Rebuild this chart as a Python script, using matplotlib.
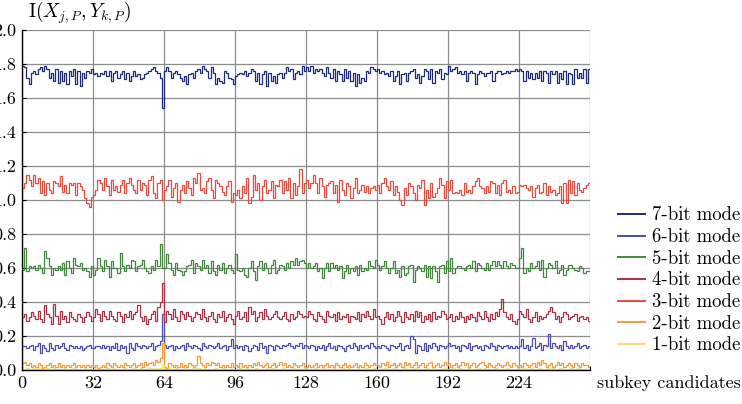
import numpy as np
import matplotlib
matplotlib.use("Agg")
import matplotlib.pyplot as plt

plt.rcParams["font.family"] = ["cmr10", "DejaVu Serif"]
plt.rcParams["mathtext.fontset"] = "cm"
plt.rcParams["axes.formatter.use_mathtext"] = True

# values, in hundredths (1-bit mode in thousandths)
mode7 = [179, 178, 172, 168, 175, 176, 174, 177, 178, 176, 179, 177, 172, 175, 170, 177,
         169, 176, 170, 175, 168, 176, 173, 177, 168, 176, 167, 175, 172, 176, 175, 177,
         174, 175, 173, 175, 174, 176, 173, 176, 170, 175, 176, 172, 174, 176, 171, 175,
         170, 173, 176, 173, 174, 171, 172, 174, 175, 176, 177, 178, 176, 175, 172, 154,
         176, 178, 176, 172, 175, 176, 174, 172, 170, 173, 168, 174, 175, 172, 176, 177,
         175, 179, 177, 176, 172, 178, 175, 168, 172, 170, 169, 176, 175, 172, 171, 168,
         173, 174, 175, 174, 176, 173, 175, 177, 176, 170, 175, 168, 174, 176, 167, 175,
         170, 173, 169, 174, 175, 172, 175, 178, 176, 177, 171, 175, 176, 174, 179, 176,
         178, 176, 179, 175, 177, 176, 177, 175, 173, 178, 175, 172, 177, 170, 176, 174,
         170, 177, 172, 176, 170, 175, 167, 174, 169, 172, 170, 176, 175, 178, 177, 176,
         177, 175, 176, 174, 175, 173, 176, 170, 173, 176, 168, 174, 175, 170, 175, 176,
         177, 172, 174, 169, 173, 177, 176, 171, 177, 169, 176, 175, 177, 171, 175, 174,
         179, 176, 177, 178, 175, 176, 174, 176, 170, 175, 176, 175, 168, 174, 176, 175,
         173, 175, 175, 176, 170, 175, 176, 176, 174, 175, 176, 175, 176, 176, 177, 176,
         177, 176, 170, 176, 172, 175, 171, 175, 172, 176, 170, 176, 175, 169, 176, 174,
         176, 169, 175, 171, 176, 168, 175, 174, 168, 177, 172, 175, 172, 177, 169, 177]

mode6 = [14, 14, 13, 14, 15, 12, 14, 16, 10, 15, 13, 11, 16, 13, 12, 15,
         13, 14, 16, 13, 12, 15, 14, 13, 14, 13, 14, 12, 13, 14, 15, 13,
         13, 14, 14, 13, 15, 13, 14, 12, 14, 13, 16, 12, 15, 13, 14, 10,
         16, 13, 12, 16, 14, 13, 15, 14, 13, 14, 16, 12, 14, 15, 17, 33,
         15, 13, 14, 15, 12, 14, 13, 14, 15, 12, 16, 14, 13, 15, 14, 13,
         12, 16, 14, 13, 15, 14, 13, 14, 16, 13, 14, 15, 12, 14, 18, 13,
         15, 13, 14, 12, 15, 14, 11, 13, 15, 14, 12, 16, 13, 14, 10, 15,
         14, 12, 15, 14, 13, 15, 14, 15, 16, 14, 13, 15, 14, 16, 13, 15,
         14, 13, 15, 14, 12, 14, 13, 15, 12, 14, 16, 13, 14, 12, 15, 14,
         13, 11, 14, 15, 13, 16, 14, 12, 15, 13, 14, 15, 13, 16, 14, 13,
         14, 13, 15, 14, 13, 12, 15, 14, 13, 14, 16, 12, 14, 15, 13, 20,
         18, 10, 15, 14, 12, 16, 11, 15, 13, 16, 14, 12, 15, 14, 13, 14,
         16, 14, 15, 13, 14, 11, 15, 14, 13, 16, 12, 14, 15, 13, 14, 12,
         15, 14, 13, 16, 14, 12, 15, 14, 13, 14, 15, 13, 14, 13, 14, 13,
         14, 18, 13, 15, 12, 14, 19, 13, 14, 16, 12, 15, 14, 21, 13, 16,
         14, 13, 15, 12, 17, 14, 13, 15, 13, 14, 16, 13, 14, 15, 13, 14]

mode5 = [59, 72, 58, 61, 60, 61, 59, 62, 60, 57, 70, 66, 61, 56, 60, 59,
         61, 59, 63, 56, 64, 60, 57, 66, 62, 61, 63, 59, 60, 58, 55, 61,
         56, 59, 66, 61, 58, 65, 61, 55, 64, 60, 60, 57, 69, 61, 58, 62,
         60, 65, 64, 58, 61, 62, 65, 60, 58, 57, 61, 59, 65, 61, 74, 60,
         60, 68, 63, 59, 56, 63, 59, 58, 56, 58, 61, 62, 65, 57, 63, 61,
         59, 65, 60, 62, 57, 64, 58, 56, 62, 59, 63, 57, 60, 62, 59, 57,
         68, 59, 58, 60, 56, 55, 60, 64, 58, 53, 61, 64, 59, 63, 60, 57,
         62, 65, 57, 59, 62, 61, 59, 63, 60, 64, 62, 66, 62, 64, 65, 63,
         60, 63, 60, 61, 63, 58, 60, 54, 60, 63, 58, 63, 60, 62, 59, 61,
         54, 58, 62, 57, 60, 58, 61, 56, 62, 58, 60, 59, 64, 61, 60, 65,
         62, 59, 61, 64, 60, 57, 60, 64, 57, 59, 55, 61, 56, 57, 61, 62,
         52, 59, 61, 60, 58, 62, 55, 61, 54, 61, 58, 52, 61, 62, 57, 64,
         58, 66, 57, 60, 61, 61, 60, 59, 61, 62, 60, 64, 58, 63, 62, 60,
         59, 63, 59, 62, 64, 61, 64, 62, 60, 64, 61, 60, 63, 62, 60, 60,
         66, 72, 57, 60, 58, 63, 60, 61, 64, 59, 65, 55, 60, 63, 62, 60,
         64, 57, 59, 62, 56, 59, 62, 62, 60, 59, 58, 61, 60, 57, 58, 58]

mode4 = [31, 33, 29, 31, 34, 32, 30, 35, 30, 28, 38, 33, 31, 27, 39, 32,
         27, 35, 30, 32, 28, 34, 31, 30, 29, 33, 31, 28, 31, 34, 32, 29,
         31, 36, 33, 29, 35, 32, 30, 35, 32, 30, 29, 34, 32, 28, 33, 31,
         35, 30, 33, 34, 38, 31, 29, 32, 27, 30, 33, 35, 29, 37, 40, 51,
         28, 35, 33, 30, 36, 31, 29, 35, 33, 30, 34, 32, 29, 31, 34, 33,
         30, 36, 31, 29, 32, 34, 30, 28, 33, 31, 35, 29, 31, 33, 30, 27,
         32, 35, 30, 31, 34, 29, 37, 33, 35, 29, 31, 34, 30, 36, 32, 30,
         31, 33, 35, 31, 30, 32, 34, 30, 29, 33, 30, 31, 35, 33, 31, 32,
         31, 35, 33, 30, 29, 34, 32, 30, 28, 35, 32, 31, 33, 29, 34, 30,
         32, 31, 33, 28, 32, 31, 30, 34, 29, 33, 31, 35, 32, 30, 36, 31,
         32, 30, 27, 31, 34, 30, 33, 29, 31, 35, 32, 28, 34, 31, 30, 33,
         29, 35, 31, 34, 28, 32, 30, 33, 29, 34, 30, 32, 31, 35, 33, 30,
         31, 33, 29, 32, 30, 34, 31, 28, 32, 30, 33, 31, 29, 34, 32, 30,
         35, 31, 29, 33, 30, 34, 32, 36, 42, 34, 31, 30, 33, 29, 27, 30,
         35, 33, 31, 36, 30, 28, 31, 34, 29, 32, 30, 31, 33, 35, 37, 34,
         30, 32, 28, 31, 34, 33, 30, 31, 32, 33, 29, 31, 32, 30, 31, 29]

mode3 = [107, 110, 115, 112, 108, 115, 110, 113, 104, 111, 103, 110, 106, 104, 111, 110,
         108, 114, 105, 109, 104, 110, 109, 110, 103, 110, 108, 106, 101, 98, 96, 102,
         103, 106, 112, 110, 106, 113, 108, 103, 112, 106, 108, 105, 109, 112, 104, 110,
         113, 109, 106, 104, 112, 106, 110, 109, 103, 112, 114, 104, 101, 110, 112, 100,
         106, 108, 112, 102, 107, 110, 99, 106, 109, 104, 111, 107, 103, 113, 110, 116,
         106, 107, 104, 111, 113, 106, 101, 112, 110, 108, 105, 103, 108, 111, 99, 104,
         103, 106, 101, 108, 104, 113, 98, 102, 115, 106, 110, 100, 108, 112, 104, 106,
         111, 101, 109, 108, 112, 104, 111, 106, 113, 101, 110, 103, 108, 118, 104, 110,
         112, 107, 110, 115, 110, 104, 113, 108, 102, 109, 110, 111, 104, 109, 99, 112,
         106, 103, 110, 108, 101, 107, 113, 104, 106, 109, 105, 108, 104, 107, 108, 106,
         109, 104, 110, 113, 108, 106, 111, 103, 108, 105, 100, 97, 107, 103, 110, 108,
         104, 100, 109, 107, 112, 97, 106, 101, 110, 102, 104, 107, 113, 109, 101, 111,
         106, 112, 104, 105, 104, 106, 103, 110, 105, 106, 104, 108, 111, 113, 108, 107,
         104, 108, 105, 111, 110, 104, 109, 103, 110, 112, 105, 106, 104, 108, 104, 105,
         109, 108, 109, 107, 106, 108, 102, 107, 109, 104, 105, 110, 103, 108, 105, 106,
         103, 104, 108, 98, 110, 98, 112, 104, 111, 103, 110, 106, 105, 107, 109, 110]

mode2 = [4, 5, 3, 4, 2, 3, 2, 4, 3, 1, 2, 3, 4, 2, 3, 2,
         4, 2, 3, 2, 3, 2, 3, 4, 2, 3, 2, 3, 2, 3, 2, 3,
         2, 3, 1, 2, 3, 2, 4, 3, 2, 4, 3, 2, 3, 2, 4, 3,
         2, 3, 4, 2, 3, 4, 2, 5, 3, 4, 5, 3, 6, 5, 7, 16,
         2, 1, 4, 3, 2, 3, 2, 4, 2, 3, 2, 4, 3, 2, 3, 8,
         4, 3, 2, 4, 3, 5, 4, 3, 4, 2, 3, 2, 3, 2, 4, 2,
         3, 2, 4, 2, 3, 2, 3, 2, 4, 3, 5, 3, 2, 3, 4, 2,
         3, 4, 2, 3, 5, 3, 4, 2, 3, 2, 4, 3, 2, 3, 4, 2,
         2, 3, 2, 3, 4, 2, 3, 2, 3, 4, 2, 3, 2, 4, 3, 2,
         3, 4, 2, 3, 2, 3, 4, 2, 3, 2, 4, 3, 2, 3, 4, 3,
         3, 2, 4, 3, 5, 2, 3, 4, 2, 3, 4, 2, 5, 3, 4, 2,
         3, 5, 2, 3, 4, 2, 3, 4, 5, 2, 3, 4, 2, 3, 5, 3,
         4, 2, 3, 4, 2, 3, 5, 3, 4, 2, 3, 4, 2, 3, 4, 5,
         3, 2, 4, 3, 2, 3, 4, 3, 2, 3, 5, 3, 2, 4, 3, 2,
         3, 2, 4, 3, 2, 3, 4, 2, 5, 3, 6, 4, 2, 3, 4, 2,
         3, 5, 3, 4, 2, 3, 4, 3, 2, 4, 3, 2, 4, 3, 3, 2]

mode1 = [8, 6, 10, 5, 7, 12, 4, 9, 6, 8, 5, 11, 7, 6, 9, 5,
         8, 6, 7, 10, 5, 8, 6, 9, 7, 5, 8, 6, 10, 7, 5, 8,
         6, 9, 5, 7, 8, 6, 10, 5, 7, 9, 6, 8, 5, 7, 11, 6,
         8, 5, 9, 7, 6, 10, 8, 5, 7, 9, 6, 11, 8, 9, 12, 30,
         7, 5, 9, 6, 8, 10, 5, 7, 6, 9, 8, 5, 7, 10, 6, 12,
         8, 6, 9, 5, 7, 8, 6, 10, 5, 7, 9, 6, 8, 5, 7, 6,
         8, 5, 9, 7, 6, 10, 8, 5, 7, 9, 6, 8, 5, 7, 10, 6,
         9, 7, 5, 8, 6, 10, 7, 5, 8, 6, 9, 7, 5, 8, 6, 9,
         5, 7, 8, 6, 10, 5, 7, 9, 6, 8, 5, 7, 11, 6, 8, 5,
         9, 7, 6, 10, 8, 5, 7, 9, 6, 8, 5, 10, 7, 6, 9, 5,
         8, 6, 7, 10, 5, 8, 6, 9, 7, 5, 8, 6, 10, 7, 5, 8,
         6, 9, 5, 7, 8, 6, 10, 5, 7, 9, 6, 8, 5, 7, 11, 6,
         8, 5, 9, 7, 6, 10, 8, 5, 7, 9, 6, 8, 5, 7, 10, 6,
         9, 7, 5, 8, 6, 10, 7, 5, 8, 6, 9, 7, 5, 8, 6, 9,
         7, 5, 9, 6, 8, 10, 5, 7, 6, 9, 8, 5, 7, 10, 6, 12,
         8, 6, 9, 5, 7, 8, 6, 10, 5, 7, 9, 6, 8, 5, 7, 6]

labels = ["7-bit mode", "6-bit mode", "5-bit mode", "4-bit mode",
          "3-bit mode", "2-bit mode", "1-bit mode"]
series = [np.array(mode7) / 100, np.array(mode6) / 100, np.array(mode5) / 100,
          np.array(mode4) / 100, np.array(mode3) / 100, np.array(mode2) / 100,
          np.array(mode1) / 1000]
colors = ["#1c2a7e", "#4b4bb2", "#3f8a3a", "#ad2f40", "#e94a3c", "#f39a3e", "#f6e266"]

xticks = [0, 32, 64, 96, 128, 160, 192, 224]

fig = plt.figure(figsize=(7.42, 4.04), dpi=100)
ax = fig.add_axes([22 / 742, 34 / 404, 568 / 742, 340 / 404])

for vals, lab, col in zip(series, labels, colors):
    edges = np.arange(len(vals) + 1)
    ax.stairs(vals, edges, baseline=None, color=col, linewidth=0.9, label=lab)

ax.set_xlim(0, 256)
ax.set_ylim(0, 2.0)
ax.set_xticks(xticks + [256])
ax.set_xticklabels([str(t) for t in xticks] + [""])
ax.set_yticks(np.arange(0, 2.01, 0.2))
ax.set_yticklabels([f"{t:.1f}" for t in np.arange(0, 2.01, 0.2)])
ax.grid(True, color="#8c8c8c", linewidth=0.9)
ax.set_axisbelow(True)
for s in ["top", "right"]:
    ax.spines[s].set_visible(False)
for s in ["left", "bottom"]:
    ax.spines[s].set_color("black")
    ax.spines[s].set_linewidth(1.0)
ax.tick_params(direction="in", length=3, width=0.8, labelsize=13, pad=4)

proxies = [plt.Line2D([], [], color=c, linewidth=1.4) for c in colors]
fig.legend(proxies, labels, loc="upper left", bbox_to_anchor=(610 / 742, 1 - 199 / 404),
           frameon=False, fontsize=13.5, handlelength=1.45, handletextpad=0.37,
           labelspacing=0.2, borderaxespad=0)

fig.text(597 / 742, 1 - 383 / 404, "subkey candidates", fontsize=13, va="center", ha="left")
fig.text(28 / 742, 1 - 13 / 404, r"I$(X_{j,P}, Y_{k,P})$", fontsize=14, va="center", ha="left")

fig.savefig("out.png", dpi=100)
